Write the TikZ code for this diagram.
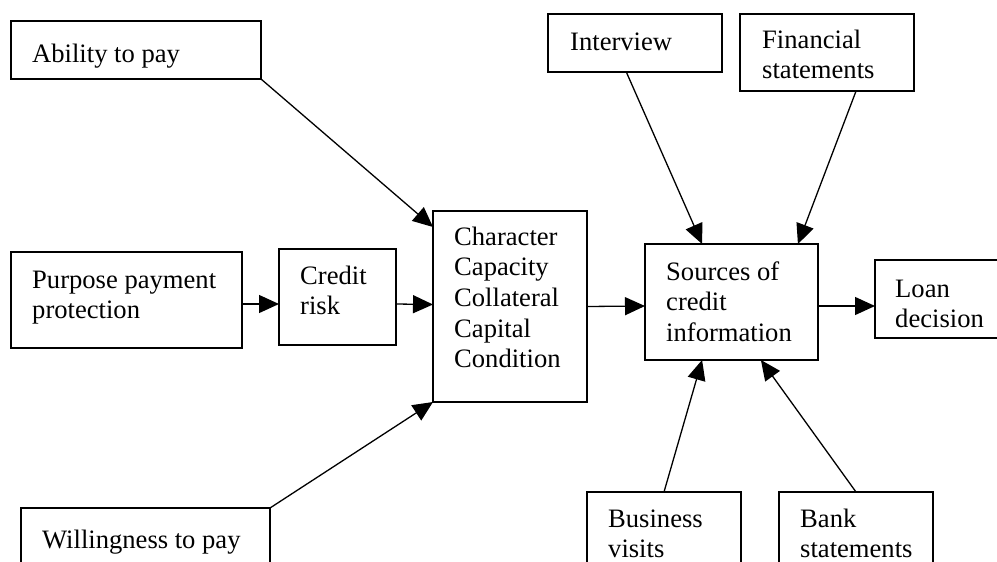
\documentclass[tikz,border=0pt]{standalone}
\usepackage{fontspec}
\setmainfont{Liberation Serif}
\usetikzlibrary{arrows.meta,calc}
\newcommand\mylines[1]{\begin{tabular}[t]{@{}l@{}}#1\end{tabular}}
\begin{document}
\begin{tikzpicture}[x=1pt,y=-1pt,
  box/.style={draw,line width=1.5pt,anchor=north west,inner sep=0pt,outer sep=0pt},
  txt/.style={anchor=base west,inner sep=0pt,font=\fontsize{26.6pt}{30.7pt}\selectfont},
  arr/.style={line width=1.3pt,-{Triangle[length=20pt,width=18pt]}}]
\useasboundingbox (0,0) rectangle (997,562);
% boxes
\node[box,minimum width=250pt,minimum height=58pt] (abil) at (11,21) {};
\node[box,minimum width=231pt,minimum height=96pt] (purp) at (11,252) {};
\node[box,minimum width=117pt,minimum height=96pt] (cred) at (279,249) {};
\node[box,minimum width=154pt,minimum height=191pt] (char) at (433,211) {};
\node[box,minimum width=173pt,minimum height=116pt] (src) at (645,244) {};
\node[box,minimum width=126pt,minimum height=78pt] (loan) at (875,260) {};
\node[box,minimum width=174pt,minimum height=58pt] (intv) at (548,14) {};
\node[box,minimum width=174pt,minimum height=77pt] (fin) at (740,14) {};
\node[box,minimum width=154pt,minimum height=90pt] (bus) at (587,492) {};
\node[box,minimum width=154pt,minimum height=90pt] (bank) at (779,492) {};
\node[box,minimum width=249pt,minimum height=80pt] (will) at (21,508) {};
% texts
\node[txt] (abilt) at (32,62) {Ability to pay};
\node[txt] (purpt) at (32,288) {\mylines{Purpose payment\\protection}};
\node[txt] (credt) at (300,284) {\mylines{Credit\\risk}};
\node[txt] (chart) at (454,245) {\mylines{Character\\Capacity\\Collateral\\Capital\\Condition}};
\node[txt] (srct) at (666,280) {\mylines{Sources of\\credit\\information}};
\node[txt] (loant) at (895,297) {\mylines{Loan\\decision}};
\node[txt] (intvt) at (570,50) {Interview};
\node[txt] (fint) at (762,48) {\mylines{Financial\\statements}};
\node[txt] (bust) at (608,527) {\mylines{Business\\visits}};
\node[txt] (bankt) at (800,527) {\mylines{Bank\\statements}};
\node[txt] (willt) at (42,548) {Willingness to pay};
% connectors
\draw[arr] ([yshift=-4pt]purp.east) -- ([yshift=-7pt]cred.west);
\draw[arr] ([yshift=-7pt]cred.east) -- ([yshift=2pt]char.west);
\draw[arr] ([yshift=0pt]char.east) -- ([yshift=-4pt]src.west);
\draw[arr] ([yshift=-4pt]src.east) -- ([yshift=-7pt]loan.west);
\draw[arr] (abil.south east) -- ([yshift=-16pt]char.north west);
\draw[arr] (will.north east) -- (char.south west);
\draw[arr] ($(intv.south west)!0.45!(intv.south east)$) -- ($(src.north west)!0.33!(src.north east)$);
\draw[arr] ($(fin.south west)!0.667!(fin.south east)$) -- ($(src.north west)!0.884!(src.north east)$);
\draw[arr] (bus.north) -- ($(src.south west)!0.33!(src.south east)$);
\draw[arr] (bank.north) -- ($(src.south west)!0.67!(src.south east)$);
\end{tikzpicture}
\end{document}
